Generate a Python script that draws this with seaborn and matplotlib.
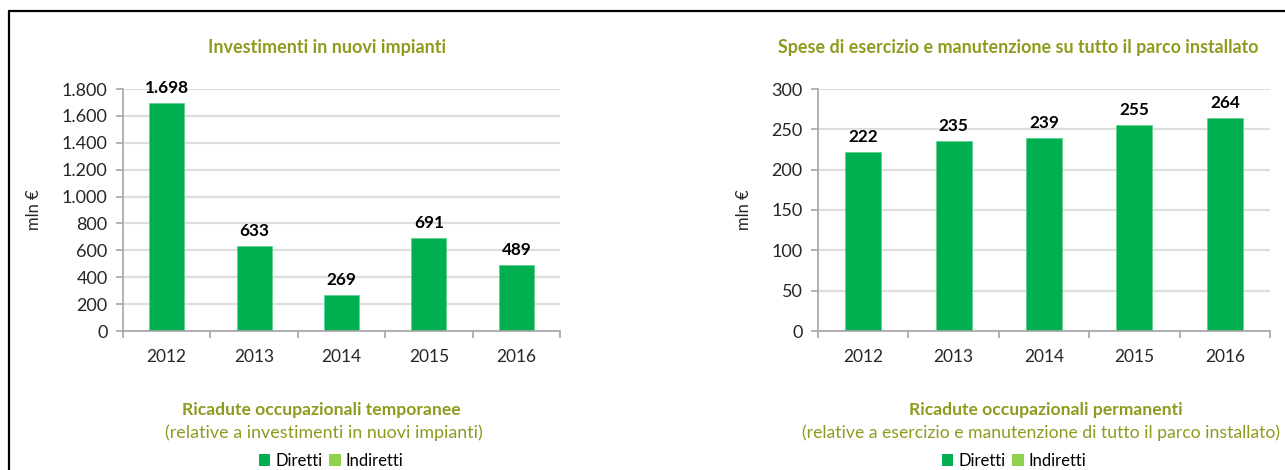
import matplotlib
matplotlib.use("Agg")
import matplotlib.pyplot as plt
from matplotlib.lines import Line2D
from matplotlib.patches import Patch
from matplotlib.ticker import FuncFormatter, FixedLocator, MultipleLocator
import pandas as pd
import seaborn as sns

# Data
years = ["2012", "2013", "2014", "2015", "2016"]
investimenti = [1698, 633, 269, 691, 489]
spese_esercizio = [222, 235, 239, 255, 264]
legend_labels = ["Diretti", "Indiretti"]

GREEN_DARK = "#00b050"
GREEN_LIGHT = "#92d050"
OLIVE = "#8f9a1e"
AXIS_GRAY = "#a6a6a6"
GRID_GRAY = "#dedede"
TEXT = "#262626"

sns.set_theme(style="white")
plt.rcParams["font.family"] = ["Lato", "DejaVu Sans"]

W, H = 1285, 470
fig = plt.figure(figsize=(W / 100, H / 100), dpi=100)


def px_axes(x0, x1, y_top, y_bottom):
    return fig.add_axes([x0 / W, (H - y_bottom) / H, (x1 - x0) / W, (y_bottom - y_top) / H])


def dot_thousands(v, _pos=None):
    return f"{v:,.0f}".replace(",", ".")


def draw_panel(ax, values, ymax, ystep):
    df = pd.DataFrame({"anno": years, "valore": values})
    sns.barplot(data=df, x="anno", y="valore", ax=ax, color=GREEN_DARK,
                width=0.4, saturation=1, edgecolor="#5fd08f", linewidth=0.6)
    ax.set_xlim(-0.5, len(years) - 0.5)
    ax.set_ylim(0, ymax)
    ax.yaxis.set_major_locator(MultipleLocator(ystep))
    ax.yaxis.set_major_formatter(FuncFormatter(dot_thousands))
    ax.grid(axis="y", color=GRID_GRAY, linewidth=1.6)
    ax.set_axisbelow(True)
    for s in ("top", "right"):
        ax.spines[s].set_visible(False)
    for s in ("left", "bottom"):
        ax.spines[s].set_color(AXIS_GRAY)
        ax.spines[s].set_linewidth(1.2)
    ax.tick_params(axis="y", which="major", left=True, length=5, width=1.2,
                   color=AXIS_GRAY, labelsize=13, labelcolor=TEXT, pad=6)
    ax.tick_params(axis="x", which="major", bottom=False, labelsize=12.5,
                   labelcolor=TEXT, pad=7)
    ax.xaxis.set_minor_locator(FixedLocator([i - 0.5 for i in range(len(years) + 1)]))
    ax.tick_params(axis="x", which="minor", bottom=True, length=5, width=1.2,
                   color=AXIS_GRAY)
    ax.set_xlabel("")
    ax.set_ylabel("mln €", fontsize=12, color=TEXT, labelpad=0)
    for i, v in enumerate(values):
        ax.annotate(dot_thousands(v), (i, v), xytext=(0, 5), textcoords="offset points",
                    ha="center", va="bottom", fontsize=12.3, fontweight="bold",
                    color="black")


ax1 = px_axes(123, 560, 89, 331)
draw_panel(ax1, investimenti, 1800, 200)
ax1.yaxis.set_label_coords((42 - 123) / (560 - 123), 0.5)

ax2 = px_axes(818, 1270, 89, 331)
draw_panel(ax2, spese_esercizio, 300, 50)
ax2.yaxis.set_label_coords((752 - 818) / (1270 - 818), 0.5)

# Titles and captions
fig.text(327 / W, 1 - 47 / H, "Investimenti in nuovi impianti", ha="center", va="center",
         fontsize=13, fontweight="bold", color=OLIVE)
fig.text(1018 / W, 1 - 47 / H, "Spese di esercizio e manutenzione su tutto il parco installato",
         ha="center", va="center", fontsize=12.9, fontweight="bold", color=OLIVE)

fig.text(321 / W, 1 - 410 / H, "Ricadute occupazionali temporanee", ha="center", va="center",
         fontsize=12.6, fontweight="bold", color=OLIVE)
fig.text(324 / W, 1 - 433 / H, "(relative a investimenti in nuovi impianti)", ha="center",
         va="center", fontsize=12.9, color=OLIVE)
fig.text(1046 / W, 1 - 410 / H, "Ricadute occupazionali permanenti", ha="center", va="center",
         fontsize=12.6, fontweight="bold", color=OLIVE)
fig.text(1041 / W, 1 - 433 / H,
         "(relative a esercizio e manutenzione di tutto il parco installato)",
         ha="center", va="center", fontsize=12.7, color=OLIVE)

# Legends
handles = [Patch(facecolor=GREEN_DARK, edgecolor="none"),
           Patch(facecolor=GREEN_LIGHT, edgecolor="none")]
for cx in (331, 1014):
    fig.legend(handles, legend_labels, loc="center", ncol=2,
               bbox_to_anchor=(cx / W, 1 - 461 / H), frameon=False, fontsize=12,
               handlelength=0.7, handleheight=0.7, handletextpad=0.3, columnspacing=0.4,
               labelcolor="black", borderpad=0.1)

# Frame
fig.add_artist(Line2D([9 / W, 1], [1 - 11 / H, 1 - 11 / H], color="black", linewidth=1.6))
fig.add_artist(Line2D([9 / W, 9 / W], [0, 1 - 11 / H], color="black", linewidth=1.6))

fig.savefig("out.png", dpi=100, facecolor="white")
